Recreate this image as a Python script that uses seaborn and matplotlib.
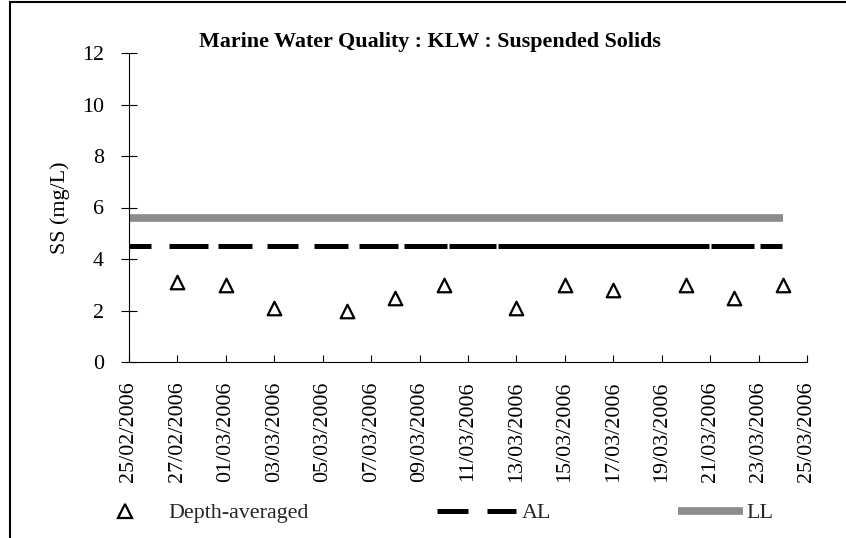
import matplotlib
matplotlib.use("Agg")
import matplotlib.pyplot as plt
import matplotlib.dates as mdates
from matplotlib.lines import Line2D
import seaborn as sns
import pandas as pd

# ---- data ----
sample_dates = ["2006-02-27", "2006-03-01", "2006-03-03", "2006-03-06", "2006-03-08",
                "2006-03-10", "2006-03-13", "2006-03-15", "2006-03-17", "2006-03-20",
                "2006-03-22", "2006-03-24"]
ss_values = [3.1, 3.0, 2.1, 2.0, 2.5, 3.0, 2.1, 3.0, 2.8, 3.0, 2.5, 3.0]
limit_dates = ["2006-02-25", "2006-03-24"]
al_value = 4.5
ll_value = 5.6
x_range = ["2006-02-25", "2006-03-25"]
y_ticks = [0, 2, 4, 6, 8, 10, 12]

title = "Marine Water Quality : KLW : Suspended Solids"
y_label = "SS (mg/L)"
legend_labels = ["Depth-averaged", "AL", "LL"]

# ---- style ----
sns.set_theme(style="white")
plt.rcParams["font.family"] = ["Liberation Serif", "DejaVu Serif"]
plt.rcParams["lines.scale_dashes"] = False

PX = 0.72  # points per pixel at 100 dpi
FS = 15.8
GRAY = "#8c8c8c"

fig = plt.figure(figsize=(8.46, 5.38), dpi=100)
ax = fig.add_axes([129/846, 1 - 362/538, (807 - 129)/846, (362 - 53)/538])

df = pd.DataFrame({"date": pd.to_datetime(sample_dates), "ss": ss_values})
lim = pd.DataFrame({"date": pd.to_datetime(limit_dates),
                    "AL": [al_value] * len(limit_dates),
                    "LL": [ll_value] * len(limit_dates)})

sns.lineplot(data=lim, x="date", y="LL", ax=ax, color=GRAY, linewidth=5.5,
             zorder=2)
ll_line = ax.lines[-1]
ll_line.set_solid_capstyle("butt")
sns.lineplot(data=lim, x="date", y="AL", ax=ax, color="black", linewidth=3.6,
             zorder=3)
al_line = ax.lines[-1]
al_dash_px = [22, 18, 39, 10, 34, 15, 31, 16, 34, 11, 39, 6, 43, 2, 47, 2,
              211, 2, 43, 6, 22, 200]
al_line.set_dashes([v * PX for v in al_dash_px])
al_line.set_dash_capstyle("butt")

sns.scatterplot(data=df, x="date", y="ss", ax=ax, marker="^", s=95,
                facecolor="white", edgecolor="black", linewidth=1.6, zorder=4)

ax.set_xlim(pd.to_datetime(x_range[0]), pd.to_datetime(x_range[1]))
ax.set_ylim(min(y_ticks), max(y_ticks))
ax.set_yticks(y_ticks)
ax.set_xticks(pd.date_range(x_range[0], x_range[1], freq="2D"))
ax.xaxis.set_major_formatter(mdates.DateFormatter("%d/%m/%Y"))

for lbl in ax.get_xticklabels():
    lbl.set_rotation(90)
ax.tick_params(axis="x", direction="in", length=5, width=0.8, labelsize=FS, pad=14,
               colors="black", bottom=True)
ax.tick_params(axis="y", direction="inout", length=12, width=0.8, labelsize=FS, pad=12,
               colors="black", left=True)

for s in ["top", "right"]:
    ax.spines[s].set_visible(False)
for s in ["left", "bottom"]:
    ax.spines[s].set_color("black")
    ax.spines[s].set_linewidth(0.8)

ax.set_xlabel("")
ax.set_ylabel(y_label, fontsize=FS, color="black")
ax.yaxis.set_label_coords(-0.087, 0.5)

fig.text(430/846, 1 - 42/538, title, ha="center", va="center",
         fontsize=15.8, fontweight="bold", color="black")

# legend (three separate entries, positioned like the original)
fs_px = FS / PX
h1 = Line2D([], [], marker="^", linestyle="none", markersize=9.7,
            markerfacecolor="white", markeredgecolor="black", markeredgewidth=1.6)
h2 = Line2D([], [], color="black", linewidth=3.6,
            dashes=[31 * PX, 19 * PX, 40 * PX, 100 * PX], dash_capstyle="butt")
h3 = Line2D([], [], color=GRAY, linewidth=5.5, solid_capstyle="butt")
legend_specs = [(h1, legend_labels[0], 103, 44, 168),
                (h2, legend_labels[1], 437, 79, 522),
                (h3, legend_labels[2], 678, 65, 746)]
for h, lab, x0, hlen, xtext in legend_specs:
    fig.legend([h], [lab], frameon=False, loc="center left",
               bbox_to_anchor=(x0/846, 1 - 513/538), borderpad=0, borderaxespad=0,
               fontsize=FS, handlelength=hlen/fs_px,
               handletextpad=(xtext - x0 - hlen)/fs_px)

# outer frame
fig.add_artist(Line2D([10/846, 10/846], [0, 1 - 2/538], transform=fig.transFigure,
                      color="black", linewidth=1.5))
fig.add_artist(Line2D([10/846, 1], [1 - 2/538, 1 - 2/538], transform=fig.transFigure,
                      color="black", linewidth=1.5))

fig.savefig("out.png", dpi=100)
